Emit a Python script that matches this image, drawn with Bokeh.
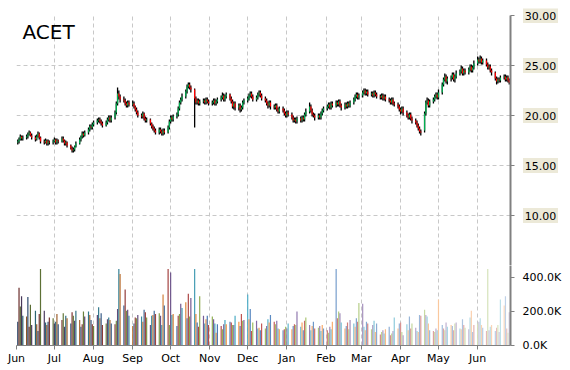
import pandas as pd
from datetime import datetime
from bokeh.plotting import figure
from bokeh.layouts import column, row
from bokeh.models import (ColumnDataSource, Range1d, FixedTicker, MonthsTicker,
                          DatetimeTickFormatter, PrintfTickFormatter, Label)
from bokeh.core.properties import value
from bokeh.embed import file_html
from bokeh.resources import INLINE

symbol = "ACET"
first_day = "2014-06-02"
view_start = datetime(2014, 6, 1)
view_end = datetime(2015, 6, 27)

opens = [
    17.3, 17.4, 17.6, 17.9, 17.7,  17.8, 17.9, 18.1, 18.3, 18.0,  17.8, 17.6, 17.9, 18.2, 17.8,
    17.4, 17.3, 17.5, 17.2, 17.4,  17.3, 17.4, 17.6, 17.3, 17.5,  17.4, 17.7, 17.5, 17.2, 17.3,
    17.0, 16.7, 16.5, 16.6, 16.9,  17.2, 17.6, 17.9, 18.2, 18.0,  18.3, 18.6, 18.9, 18.8, 19.1,
    19.3, 19.5, 19.6, 19.4, 19.2,  19.0, 19.3, 19.6, 19.8, 19.5,  19.8, 20.3, 21.2, 22.2, 21.9,
    21.6, 21.5, 21.2, 21.0, 21.3,  21.1, 21.2, 20.9, 20.6, 20.3,  20.0, 19.9, 20.2, 19.7, 19.5,
    19.6, 19.2, 18.9, 18.7, 18.5,  18.3, 18.6, 18.4, 18.2, 18.5,  18.3, 18.8, 19.4, 19.8, 19.6,
    19.9, 20.1, 20.7, 21.3, 21.6,  21.9, 22.4, 22.9, 23.1, 22.8,  22.6, 21.7, 21.3, 21.5, 21.2,
    21.4, 21.5, 21.3, 21.6, 21.4,  21.2, 21.3, 21.5, 21.2, 21.4,  21.6, 21.8, 22.0, 21.6, 21.9,
    22.1, 21.7, 21.4, 20.9, 21.2,  20.8, 21.0, 20.6, 20.8, 21.3,  21.5, 21.7, 22.0, 22.2, 21.9,
    21.6, 21.8, 22.1, 22.3, 22.0,  21.7, 21.5, 21.2, 21.0, 21.3,  20.9, 20.8, 21.0, 20.6, 20.4,
    20.7, 20.5, 20.2, 20.0, 20.3,  20.1, 19.8, 19.5, 19.6, 19.4,  19.7, 19.5, 19.8, 19.6, 20.1,
    20.4, 20.9, 20.5, 20.1, 20.0,  19.8, 20.0, 19.8, 20.2, 20.5,  20.7, 20.9, 21.1, 20.8, 21.2,
    21.0, 21.3, 21.1, 21.4, 21.0,  20.8, 21.1, 20.9, 21.2, 21.0,  21.3, 21.6, 21.9, 22.1, 21.8,
    22.0, 22.3, 22.5, 22.2, 22.4,  22.1, 22.2, 22.0, 22.3, 22.1,  21.9, 21.8, 22.0, 21.7, 21.9,
    21.6, 21.5, 21.3, 21.6, 21.2,  21.1, 20.9, 20.6, 20.4, 20.7,  20.3, 20.0, 19.8, 20.1, 19.7,
    19.5, 19.3, 19.0, 18.7, 18.4,  18.5, 20.2, 21.3, 21.5, 21.0,  21.4, 21.6, 21.9, 22.1, 21.8,
    22.3, 23.1, 23.6, 23.9, 23.4,  23.7, 23.8, 24.1, 23.6, 23.9,  24.2, 24.4, 24.7, 24.2, 24.5,
    24.3, 24.6, 24.9, 24.5, 24.8,  25.2, 25.6, 25.4, 25.7, 25.3,  25.5, 25.1, 24.8, 24.9, 24.5,
    24.3, 23.7, 23.4, 23.6, 23.5,  23.8, 23.9, 23.6, 23.8, 23.5,
]
highs = [
    17.6, 17.8, 18.1, 18.0, 18.0,  18.1, 18.3, 18.5, 18.4, 18.2,  18.0, 18.1, 18.4, 18.3, 17.9,
    17.6, 17.7, 17.6, 17.6, 17.5,  17.6, 17.8, 17.7, 17.7, 17.6,  17.9, 17.9, 17.6, 17.5, 17.4,
    17.1, 16.9, 16.8, 17.0, 17.4,  17.8, 18.0, 18.4, 18.4, 18.5,  18.8, 19.1, 19.1, 19.3, 19.5,
    19.7, 19.8, 19.8, 19.6, 19.4,  19.5, 19.8, 20.0, 20.0, 20.0,  20.5, 21.4, 22.8, 22.5, 22.1,
    21.9, 21.7, 21.4, 21.5, 21.5,  21.5, 21.4, 21.0, 20.8, 20.5,  20.2, 20.4, 20.3, 19.9, 19.8,
    19.7, 19.3, 19.1, 18.9, 18.7,  18.8, 18.8, 18.6, 18.7, 18.7,  19.0, 19.6, 20.0, 20.0, 20.1,
    20.3, 20.9, 21.5, 21.8, 22.2,  22.6, 23.1, 23.3, 23.3, 23.0,  22.7, 21.9, 21.7, 21.7, 21.6,
    21.7, 21.7, 21.8, 21.8, 21.6,  21.5, 21.7, 21.7, 21.6, 21.8,  22.0, 22.3, 22.2, 22.1, 22.3,
    22.2, 21.9, 21.6, 21.4, 21.4,  21.2, 21.2, 21.0, 21.5, 21.7,  21.9, 22.2, 22.4, 22.4, 22.1,
    22.0, 22.3, 22.5, 22.5, 22.2,  21.9, 21.7, 21.4, 21.5, 21.5,  21.1, 21.2, 21.2, 20.8, 20.9,
    20.9, 20.7, 20.4, 20.5, 20.5,  20.3, 20.0, 19.8, 19.8, 19.9,  19.9, 20.0, 20.0, 20.3, 20.7,
    21.3, 21.1, 20.7, 20.3, 20.2,  20.2, 20.2, 20.4, 20.7, 20.9,  21.1, 21.3, 21.3, 21.4, 21.4,
    21.5, 21.5, 21.6, 21.6, 21.2,  21.3, 21.3, 21.4, 21.4, 21.5,  21.8, 22.1, 22.3, 22.3, 22.2,
    22.5, 22.7, 22.7, 22.6, 22.6,  22.4, 22.4, 22.5, 22.5, 22.3,  22.1, 22.2, 22.2, 22.1, 22.1,
    21.8, 21.7, 21.8, 21.8, 21.4,  21.3, 21.1, 20.8, 20.9, 20.9,  20.5, 20.2, 20.3, 20.3, 19.9,
    19.7, 19.5, 19.2, 18.9, 18.6,  20.4, 21.5, 21.8, 21.7, 21.6,  21.8, 22.1, 22.3, 22.3, 22.6,
    23.3, 23.8, 24.2, 24.1, 23.9,  24.0, 24.3, 24.3, 24.1, 24.5,  24.6, 25.0, 24.9, 24.7, 24.7,
    24.8, 25.1, 25.1, 25.0, 25.5,  25.9, 25.8, 26.0, 25.9, 25.7,  25.7, 25.3, 25.1, 25.1, 24.7,
    24.4, 23.9, 23.8, 23.8, 24.0,  24.1, 24.1, 24.0, 24.0, 23.7,
]
lows = [
    17.1, 17.2, 17.5, 17.5, 17.5,  17.6, 17.7, 18.0, 17.9, 17.6,  17.4, 17.5, 17.8, 17.6, 17.2,
    17.1, 17.2, 17.0, 17.0, 17.1,  17.1, 17.3, 17.1, 17.1, 17.2,  17.3, 17.3, 17.0, 17.0, 16.8,
    16.6, 16.3, 16.3, 16.4, 16.8,  17.1, 17.4, 17.7, 17.8, 17.9,  18.1, 18.4, 18.6, 18.6, 18.9,
    19.1, 19.3, 19.2, 19.0, 18.8,  18.9, 19.1, 19.4, 19.3, 19.3,  19.6, 20.1, 21.0, 21.6, 21.3,
    21.3, 21.0, 20.8, 20.8, 20.9,  20.9, 20.7, 20.4, 20.1, 19.8,  19.7, 19.7, 19.5, 19.3, 19.3,
    19.0, 18.7, 18.5, 18.3, 18.1,  18.1, 18.2, 18.0, 18.0, 18.1,  18.2, 18.6, 19.2, 19.4, 19.4,
    19.7, 19.9, 20.5, 21.1, 21.4,  21.7, 22.2, 22.7, 22.6, 22.3,  18.8, 21.1, 21.1, 21.0, 21.0,
    21.2, 21.1, 21.1, 21.2, 21.0,  21.0, 21.1, 21.0, 21.0, 21.2,  21.4, 21.6, 21.4, 21.4, 21.7,
    21.5, 21.2, 20.7, 20.6, 20.5,  20.5, 20.3, 20.4, 20.6, 21.1,  21.3, 21.5, 21.8, 21.7, 21.4,
    21.4, 21.6, 21.9, 21.8, 21.5,  21.3, 21.0, 20.7, 20.8, 20.6,  20.6, 20.6, 20.4, 20.2, 20.2,
    20.3, 20.0, 19.8, 19.8, 19.9,  19.6, 19.3, 19.3, 19.2, 19.2,  19.3, 19.3, 19.4, 19.4, 19.9,
    20.2, 20.3, 19.9, 19.8, 19.5,  19.6, 19.6, 19.6, 20.0, 20.3,  20.5, 20.7, 20.6, 20.6, 20.8,
    20.8, 20.9, 20.9, 20.8, 20.5,  20.6, 20.7, 20.7, 20.8, 20.8,  21.1, 21.4, 21.7, 21.6, 21.6,
    21.8, 22.1, 22.0, 22.0, 21.9,  21.9, 21.8, 21.8, 21.9, 21.7,  21.6, 21.6, 21.5, 21.5, 21.4,
    21.3, 21.1, 21.1, 21.0, 20.9,  20.7, 20.4, 20.1, 20.2, 20.0,  19.8, 19.6, 19.6, 19.5, 19.2,
    19.1, 18.8, 18.5, 18.2, 18.0,  18.3, 20.0, 21.1, 20.8, 20.8,  21.2, 21.4, 21.7, 21.6, 21.6,
    22.1, 22.9, 23.4, 23.2, 23.1,  23.4, 23.6, 23.4, 23.3, 23.7,  24.0, 24.2, 24.0, 24.0, 24.1,
    24.1, 24.4, 24.3, 24.3, 24.6,  25.0, 25.2, 25.2, 25.1, 25.1,  24.9, 24.6, 24.6, 24.3, 24.0,
    23.5, 23.1, 23.2, 23.3, 23.3,  23.6, 23.4, 23.4, 23.3, 23.1,
]
closes = [
    17.4, 17.6, 17.9, 17.7, 17.8,  17.9, 18.1, 18.3, 18.0, 17.8,  17.6, 17.9, 18.2, 17.8, 17.4,
    17.3, 17.5, 17.2, 17.4, 17.3,  17.4, 17.6, 17.3, 17.5, 17.4,  17.7, 17.5, 17.2, 17.3, 17.0,
    16.7, 16.5, 16.6, 16.9, 17.2,  17.6, 17.9, 18.2, 18.0, 18.3,  18.6, 18.9, 18.8, 19.1, 19.3,
    19.5, 19.6, 19.4, 19.2, 19.0,  19.3, 19.6, 19.8, 19.5, 19.8,  20.3, 21.2, 22.2, 21.9, 21.6,
    21.5, 21.2, 21.0, 21.3, 21.1,  21.2, 20.9, 20.6, 20.3, 20.0,  19.9, 20.2, 19.7, 19.5, 19.6,
    19.2, 18.9, 18.7, 18.5, 18.3,  18.6, 18.4, 18.2, 18.5, 18.3,  18.8, 19.4, 19.8, 19.6, 19.9,
    20.1, 20.7, 21.3, 21.6, 21.9,  22.4, 22.9, 23.1, 22.8, 22.6,  21.7, 21.3, 21.5, 21.2, 21.4,
    21.5, 21.3, 21.6, 21.4, 21.2,  21.3, 21.5, 21.2, 21.4, 21.6,  21.8, 22.0, 21.6, 21.9, 22.1,
    21.7, 21.4, 20.9, 21.2, 20.8,  21.0, 20.6, 20.8, 21.3, 21.5,  21.7, 22.0, 22.2, 21.9, 21.6,
    21.8, 22.1, 22.3, 22.0, 21.7,  21.5, 21.2, 21.0, 21.3, 20.9,  20.8, 21.0, 20.6, 20.4, 20.7,
    20.5, 20.2, 20.0, 20.3, 20.1,  19.8, 19.5, 19.6, 19.4, 19.7,  19.5, 19.8, 19.6, 20.1, 20.4,
    20.9, 20.5, 20.1, 20.0, 19.8,  20.0, 19.8, 20.2, 20.5, 20.7,  20.9, 21.1, 20.8, 21.2, 21.0,
    21.3, 21.1, 21.4, 21.0, 20.8,  21.1, 20.9, 21.2, 21.0, 21.3,  21.6, 21.9, 22.1, 21.8, 22.0,
    22.3, 22.5, 22.2, 22.4, 22.1,  22.2, 22.0, 22.3, 22.1, 21.9,  21.8, 22.0, 21.7, 21.9, 21.6,
    21.5, 21.3, 21.6, 21.2, 21.1,  20.9, 20.6, 20.4, 20.7, 20.3,  20.0, 19.8, 20.1, 19.7, 19.5,
    19.3, 19.0, 18.7, 18.4, 18.3,  20.2, 21.3, 21.5, 21.0, 21.4,  21.6, 21.9, 22.1, 21.8, 22.3,
    23.1, 23.6, 23.9, 23.4, 23.7,  23.8, 24.1, 23.6, 23.9, 24.2,  24.4, 24.7, 24.2, 24.5, 24.3,
    24.6, 24.9, 24.5, 24.8, 25.2,  25.6, 25.4, 25.7, 25.3, 25.5,  25.1, 24.8, 24.9, 24.5, 24.3,
    23.7, 23.4, 23.6, 23.5, 23.8,  23.9, 23.6, 23.8, 23.5, 23.3,
]
volumes_k = [
    140, 340, 230, 290, 175,  170, 285, 110, 240, 120,  205, 125, 85, 185, 450,
    205, 135, 120, 140, 165,  160, 130, 140, 185, 125,  150, 190, 110, 175, 160,
    130, 195, 175, 145, 205,  150, 110, 125, 200, 170,  200, 180, 150, 125, 115,
    180, 225, 160, 190, 120,  130, 155, 165, 150, 130,  125, 145, 215, 450, 420,
    235, 330, 205, 210, 175,  115, 130, 165, 160, 180,  170, 140, 210, 195, 165,
    120, 175, 180, 205, 185,  190, 175, 120, 300, 235,  450, 120, 430, 180, 185,
    115, 175, 185, 245, 220,  255, 160, 305, 170, 280,  450, 185, 135, 110, 290,
    175, 130, 155, 175, 120,  170, 155, 130, 75, 125,  115, 95, 125, 150, 125,
    140, 135, 120, 120, 175,  140, 115, 185, 145, 150,  300, 155, 215, 85, 135,
    145, 100, 105, 90, 130,  100, 115, 155, 135, 180,  140, 125, 145, 100, 95,
    90, 95, 110, 100, 130,  95, 115, 125, 120, 200,  110, 135, 90, 145, 165,
    120, 90, 115, 140, 100,  105, 115, 85, 120, 100,  90, 75, 110, 95, 140,
    450, 160, 200, 190, 135,  100, 115, 135, 95, 150,  130, 110, 160, 140, 250,
    245, 110, 90, 140, 130,  95, 120, 145, 80, 130,  65, 80, 90, 70, 95,
    110, 60, 70, 85, 165,  100, 130, 135, 80, 60,  125, 90, 170, 100, 130,
    105, 85, 80, 180, 175,  210, 180, 170, 130, 90,  85, 80, 100, 90, 270,
    120, 100, 90, 135, 110,  120, 115, 90, 130, 135,  100, 95, 155, 120, 105,
    95, 165, 205, 80, 120,  130, 140, 160, 120, 105,  85, 450, 90, 110, 120,
    85, 105, 120, 80, 270,  235, 290, 100, 75, 195,
]
price_ticks = [10, 15, 20, 25, 30]
price_grid = [5, 10, 15, 20, 25, 30]
volume_ticks = [0, 200, 400]

# ---------- styles ----------
UP, DOWN, WICK = "#00B050", "#FF0000", "#000000"
PALETTE = ["#4F81BD", "#C0504D", "#9BBB59", "#8064A2", "#4BACC6", "#F79646"]
GRID = "#C8C8C8"
AXIS = "#808080"
LABEL_BG = "#ECE9D8"
FONT = "DejaVu Sans"
DAY_MS = 86400000


def blend(hexc, t):
    r, g, b = int(hexc[1:3], 16), int(hexc[3:5], 16), int(hexc[5:7], 16)
    if t < 0.45:
        k = 0.45 * (1 - t / 0.45)
        r, g, b = [int(c * (1 - k)) for c in (r, g, b)]
    else:
        k = 0.65 * (t - 0.45) / 0.55
        r, g, b = [int(c + (255 - c) * k) for c in (r, g, b)]
    return "#%02x%02x%02x" % (r, g, b)


n = len(closes)
dates = pd.bdate_range(first_day, periods=n)
src = ColumnDataSource(dict(
    date=dates, open=opens, high=highs, low=lows, close=closes, vol=volumes_k,
    body_col=[UP if c >= o else DOWN for o, c in zip(opens, closes)],
    vol_col=[blend(PALETTE[i % len(PALETTE)], i / (n - 1)) for i in range(n)],
))
tick_src = ColumnDataSource(dict(y=price_ticks, txt=["%.2f" % t for t in price_ticks]))

x_range = Range1d(view_start, view_end)

price = figure(x_axis_type="datetime", x_range=x_range, y_range=Range1d(5, 30),
               frame_width=494, frame_height=250, x_axis_location=None,
               y_axis_location="right", output_backend="svg", toolbar_location=None,
               min_border_left=16, min_border_top=15, min_border_bottom=0,
               min_border_right=6)
# narrow strip right of the price axis holding its boxed tick labels
# (same 10 px per unit scale, 7 px taller at the top so the 30.00 box is not cut)
labels = figure(x_range=Range1d(0, 52), y_range=Range1d(5, 30.7), frame_width=52,
                frame_height=257, x_axis_location=None, y_axis_location=None,
                output_backend="svg", toolbar_location=None, min_border_left=0,
                min_border_top=8, min_border_bottom=0, min_border_right=0)
labels.frame_align = False
vol = figure(x_axis_type="datetime", x_range=x_range, y_range=Range1d(0, 470.6),
             frame_width=494, frame_height=80, y_axis_location="right",
             output_backend="svg", toolbar_location=None,
             min_border_left=16, min_border_top=0, min_border_right=58,
             min_border_bottom=0)

for p in (price, vol, labels):
    p.outline_line_color = None
    p.background_fill_color = "white"
    p.border_fill_color = "white"
labels.grid.visible = False

for p in (price, vol):
    p.xgrid.ticker = MonthsTicker(months=list(range(12)))
    p.xgrid.grid_line_color = GRID
    p.xgrid.grid_line_dash = "4 3"
    p.yaxis.axis_line_color = AXIS
    p.yaxis.axis_line_width = 2
    p.yaxis.major_tick_line_color = AXIS
    p.yaxis.major_tick_out = 4
    p.yaxis.major_tick_in = 0
    p.yaxis.minor_tick_line_color = None
    p.yaxis.major_label_text_font = FONT
    p.yaxis.major_label_text_font_size = "11px"
    p.yaxis.major_label_text_color = "black"
    p.yaxis.major_label_standoff = 8

price.ygrid.ticker = FixedTicker(ticks=price_grid)
price.ygrid.grid_line_color = GRID
price.ygrid.grid_line_dash = "4 3"
price.yaxis.ticker = FixedTicker(ticks=price_ticks)
price.yaxis.major_label_standoff = 0
price.yaxis.major_label_overrides = {t: "" for t in price_ticks}

vol.ygrid.visible = False
vol.yaxis.ticker = FixedTicker(ticks=volume_ticks)
vol.yaxis.formatter = PrintfTickFormatter(format="%.1fK")
vol.xaxis.ticker = MonthsTicker(months=list(range(12)))
vol.xaxis.formatter = DatetimeTickFormatter(months="%b", days="%b")
vol.xaxis.axis_line_color = AXIS
vol.xaxis.major_tick_line_color = AXIS
vol.xaxis.major_tick_out = 4
vol.xaxis.major_tick_in = 0
vol.xaxis.minor_tick_line_color = None
vol.xaxis.major_label_text_font = FONT
vol.xaxis.major_label_text_font_size = "11px"
vol.xaxis.major_label_text_color = "black"
vol.xaxis.major_label_standoff = 2

# candles
price.segment(x0="date", y0="high", x1="date", y1="low", source=src,
              line_color=WICK, line_width=1.3)
price.vbar(x="date", top="open", bottom="close", width=DAY_MS * 1.0, source=src,
           fill_color="body_col", line_color=None)

# volume
vol.vbar(x="date", top="vol", bottom=0, width=DAY_MS * 0.95, source=src,
         fill_color="vol_col", line_color=None)

# boxed price tick labels
labels.rect(x=24, y="y", width=35, height=15, width_units="screen",
            height_units="screen", source=tick_src, fill_color=LABEL_BG,
            line_color=None)
labels.text(x=24, y="y", text="txt", source=tick_src, text_align="center",
            text_baseline="middle", text_font=value(FONT), text_font_size="11px",
            text_color="black")

price.add_layout(Label(x=6, y=234, x_units="screen", y_units="screen", text=symbol,
                       text_font=FONT, text_font_size="20px", text_color="black",
                       text_baseline="alphabetic"))

layout = column(row(price, labels, spacing=0), vol, spacing=0)
open("out.html", "w").write(file_html(layout, INLINE))
